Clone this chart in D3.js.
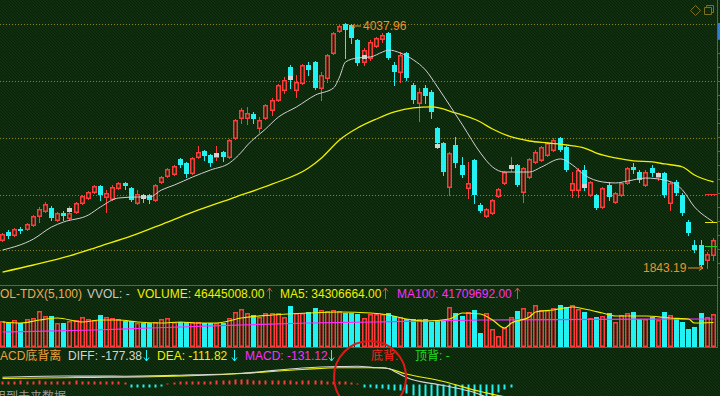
<!DOCTYPE html>
<html>
<head>
<meta charset="utf-8">
<style>
html, body { margin:0; padding:0; background:#0c2a0c; overflow:hidden; }
svg { display:block; }
text { font-family:"Liberation Sans", Arial, "Noto Sans CJK SC", sans-serif; font-size:12px; }
</style>
<script src="https://cdn.jsdelivr.net/npm/d3@7/dist/d3.min.js"></script>
</head>
<body>
<div id="chart"></div>
<script>
// daily candles
var opens = [2094,2166,2139,2192,2192,2228,2309,2354,2381,2273,2336,2291,2345,2425,2470,2524,2578,2479,2461,2560,
  2605,2560,2425,2488,2497,2452,2614,2667,2685,2820,2784,2694,2838,2891,2855,2838,2882,2838,3008,3187,
  3187,3223,3097,3187,3259,3348,3438,3644,3438,3501,3662,3689,3456,3545,3769,3967,4029,4020,3886,3689,
  3725,3832,3895,3949,3662,3599,3769,3483,3321,3456,3420,3097,2963,2569,2945,2766,2560,2811,2407,2309,
  2336,2488,2605,2739,2766,2524,2658,2793,2811,2855,2900,3008,2927,2542,2542,2721,2497,2497,2390,2587,
  2434,2497,2605,2748,2703,2587,2739,2658,2694,2425,2614,2497,2255,2049,2049,1915,1959]
var highs = [2157,2183,2201,2210,2246,2318,2390,2434,2399,2345,2354,2399,2434,2497,2533,2587,2587,2542,2587,2614,
  2614,2569,2542,2506,2506,2596,2667,2739,2766,2829,2793,2838,2936,2900,2864,2936,2891,2999,3178,3277,
  3286,3241,3196,3312,3366,3492,3554,3662,3572,3671,3689,3698,3599,3760,3958,4020,4037.96,4030,3895,3814,
  3886,3913,3949,3958,3689,3778,3778,3501,3456,3483,3438,3106,2972,2882,3017,2838,2793,2820,2425,2381,
  2461,2560,2712,2838,2775,2748,2829,2900,2936,2972,3008,3017,2936,2703,2739,2766,2623,2506,2569,2614,
  2524,2614,2748,2784,2721,2721,2766,2703,2703,2614,2631,2515,2273,2094,2094,1986,2112]
var lows = [2085,2112,2130,2157,2183,2219,2255,2345,2273,2264,2273,2273,2336,2416,2461,2515,2452,2345,2452,2551,
  2551,2443,2416,2434,2425,2443,2605,2658,2676,2748,2658,2685,2829,2811,2757,2811,2802,2829,2999,3142,
  3133,3142,3062,3178,3214,3339,3411,3456,3375,3492,3572,3447,3348,3510,3760,3958,3725,3859,3662,3662,
  3707,3823,3868,3716,3483,3510,3527,3321,3160,3321,3187,2918,2676,2497,2748,2658,2470,2425,2345,2300,
  2327,2479,2596,2712,2578,2434,2649,2784,2802,2846,2891,2891,2712,2479,2479,2542,2488,2372,2381,2452,
  2425,2488,2596,2694,2614,2578,2667,2631,2479,2363,2497,2318,2139,1986,1861,1843.19,1915]
var closes = [2148,2130,2192,2175,2237,2309,2372,2416,2291,2336,2309,2336,2425,2488,2524,2578,2497,2515,2569,2605,
  2578,2452,2506,2461,2452,2587,2658,2730,2757,2766,2685,2829,2882,2847,2784,2864,2838,2990,3169,3259,
  3232,3178,3169,3303,3348,3483,3527,3527,3510,3662,3617,3456,3572,3751,3949,4011,3975,3904,3680,3796,
  3868,3904,3931,3725,3599,3751,3545,3348,3420,3384,3241,2963,2703,2873,2784,2676,2605,2497,2354,2372,
  2452,2551,2703,2757,2587,2739,2820,2882,2927,2963,2990,2900,2721,2605,2721,2587,2614,2381,2560,2479,
  2515,2605,2739,2721,2631,2703,2694,2676,2497,2605,2515,2336,2157,2004,1870,1968,2094]

// volume, millions of shares
var volumes = [36.4,33.6,37.8,33.6,39.2,40.6,50.4,43.4,43.4,33.6,
  33.6,36.4,37.8,42.0,39.2,37.8,44.8,42.0,40.6,39.2,
  36.4,36.4,33.6,33.6,33.6,35.0,39.2,40.6,35.0,35.0,
  35.0,35.0,35.0,33.6,33.6,33.6,33.6,40.6,49.0,53.2,
  47.6,44.8,42.0,47.6,47.6,47.6,42.0,57.4,47.6,47.6,
  49.0,54.6,51.8,50.4,51.8,50.4,47.6,47.6,46.2,40.6,
  46.2,46.2,46.2,47.6,43.4,42.0,39.2,39.2,39.2,39.2,
  35.0,37.8,37.8,56.0,47.6,43.4,49.0,51.8,19.6,47.6,
  25.2,15.4,26.6,42.0,50.4,54.6,49.0,58.8,51.8,51.8,
  54.6,58.8,56.0,58.8,53.2,49.0,40.6,42.0,43.4,47.6,
  35.0,44.8,47.6,49.0,39.2,39.2,42.0,37.8,49.0,44.8,
  40.6,35.0,25.2,28.0,47.6,42.0,46.4]

// MACD histogram
var macdBars = [24,24,24,32,24,24,32,24,24,24,24,24,32,24,24,24,24,24,24,24,16,
  -24,-24,-24,-24,-24,-16, 8,
  16,24,24,24,24,24,24,32,32,32,40,40,40,32,32,32,32,32,32,32,24,32,32,32,32,24,24,24,24,16,
  8,
  -24,-24,-32,-32,-40,-48,-48,-72,-88,-104,-120,-136,-150,-160,-160,-160,-150,-140,-130,-120,-110,-100,-64,-40,-24,
  0,0,0,0,0,0,0,0,0,0,0,0,0,0,0,0,0,0,0,0,0,0,0,0,0,0,0,0,0,0,0,0,0]

// moving averages sampled at candle indexes
var whiteMaIdx = [0,5,8,10,14,16,19,22,24,26,28,31,34,37,39,40,43,45,48,51,54,55,56,58,60,62,63,65,67,69,71,73,75,78,80,82,86,88,91,93,95,98,100,102,105,108,111,113,115,116]
var whiteMaVal = [2004,2103,2210,2255,2318,2390,2470,2479,2479,2542,2587,2658,2721,2784,2882,2945,3088,3196,3286,3393,3456,3554,3689,3725,3734,3778,3796,3769,3707,3617,3465,3303,3124,2873,2748,2703,2703,2748,2820,2766,2676,2614,2605,2622,2649,2631,2542,2390,2291,2255]
var yellowMaIdx = [0,5,11,16,21,27,32,38,44,50,52,55,58,61,64,67,70,74,78,80,83,86,89,92,95,97,100,103,106,108,111,113,116]
var yellowMaVal = [1807,1870,1951,2040,2130,2255,2363,2479,2596,2739,2829,2990,3097,3178,3241,3277,3286,3232,3151,3088,3017,2981,2963,2945,2918,2873,2829,2802,2793,2775,2748,2676,2614]
var volMa5Idx = [0,3,6,9,13,16,19,22,26,29,32,35,39,44,50,55,60,63,66,69,73,75,78,80,82,83,86,87,90,93,95,98,100,102,105,109,112,113,116]
var volMa5Val = [35.0,33.6,37.8,40.6,35.0,37.8,37.8,35.0,33.6,35.0,33.6,33.6,40.6,44.8,47.6,49.0,47.6,44.8,39.2,36.4,39.2,47.6,46.2,37.8,26.6,33.6,42.0,49.0,51.8,56.0,53.2,47.6,43.4,43.4,43.4,40.6,39.2,33.6,34.3]
var volMa100Idx = [0,15,24,39,50,61,78,116]
var volMa100Val = [21.0,23.8,26.6,30.8,33.6,35.0,37.8,39.2]
var diffIdx = [0,10,20,29,39,49,55,58,61,63,64,66,72,77,82,91,104,116]
var diffVal = [58,68,66,74,90,132,144,146,134,128,104,56,-8,-64,-160,-240,-200,-177]
var deaIdx = [0,13,26,39,49,55,62,66,72,78,84,100,116]
var deaVal = [48,56,64,88,120,134,134,84,24,-56,-110,-125,-111]

// white markers on candles, every 12 bars
var markIdx = [11,23,35,47,59,71,83,95,107]
var markPrice = [2363,2479,2855,3545,3734,2936,2748,2578,2676]

var gridPrices = [4030, 3520, 3010, 2500, 2000]
var edgePrices = [2506, 2255, 2040]
var edgeColors = ['#ff3030', '#e8e800', '#20d020']

var hiText = '4037.96', loText = '1843.19'
var volTexts = ['VOL-TDX(5,100)', 'VVOL: -', 'VOLUME: 46445008.00', 'MA5: 34306664.00', 'MA100: 41709692.00']
var macdTexts = ['MACD底背离', 'DIFF: -177.38', 'DEA: -111.82', 'MACD: -131.12', '底背:', '顶背: -']

var W = 720, H = 396
var RED = '#ff3b3b', CYAN = '#22f2f2', YEL = '#f0f000', MAG = '#ff2cff', ORG = '#f0902c'

var svg = d3.select('#chart').append('svg').attr('width', W).attr('height', H)

// hatched dark green background
var defs = svg.append('defs')
var pat = defs.append('pattern').attr('id', 'bg').attr('width', 3).attr('height', 3)
  .attr('patternUnits', 'userSpaceOnUse')
pat.append('rect').attr('width', 3).attr('height', 3).attr('fill', '#0f2f0e')
pat.append('path').attr('d', 'M0,0 L3,3 M-1,2 L1,4 M2,-1 L4,1').attr('stroke', '#081f08').attr('stroke-width', 0.9)
svg.append('rect').attr('width', W).attr('height', H).attr('fill', 'url(#bg)')

var n = closes.length
var idx = d3.range(n)
var x = d3.scaleBand().domain(idx).range([0, 716]).paddingInner(0.15)
function left(i){ return Math.round(x(i)) }
function cx(i){ return left(i) + 2.5 }
function up(i){ return closes[i] >= opens[i] }

var y = d3.scaleLinear().domain([1843.19, 4037.96]).range([268, 23])
var yv = d3.scaleLinear().domain([0, 58.8]).range([347, 305])
var ym = d3.scaleLinear().domain([0, 80]).range([384.5, 374.5])

// grid + frame
svg.append('g').selectAll('line').data(gridPrices).enter().append('line')
  .attr('x1', 0).attr('x2', 716)
  .attr('y1', function(d){ return Math.round(y(d)) + 0.5 })
  .attr('y2', function(d){ return Math.round(y(d)) + 0.5 })
  .attr('stroke', '#8a7e1c').attr('stroke-dasharray', '1,2')

var frame = svg.append('g').attr('stroke', '#6a661c').attr('shape-rendering', 'crispEdges')
frame.append('line').attr('x1', 0).attr('x2', 718).attr('y1', 285.5).attr('y2', 285.5)
frame.append('line').attr('x1', 0).attr('x2', 718).attr('y1', 347.5).attr('y2', 347.5)
frame.append('line').attr('x1', 717.5).attr('x2', 717.5).attr('y1', 0).attr('y2', 348)
frame.selectAll('.tk').data(d3.range(39, 285, 14)).enter().append('line')
  .attr('x1', 717).attr('x2', 720).attr('y1', function(d){ return d + 0.5 }).attr('y2', function(d){ return d + 0.5 })
svg.append('rect').attr('x', 718).attr('y', 23).attr('width', 2).attr('height', 16).attr('fill', '#2f7fd8')

// top-right icons
svg.append('path').attr('d', 'M695.5,5.5 L700.5,10.5 L695.5,15.5 L690.5,10.5 Z')
  .attr('fill', 'none').attr('stroke', '#7a7020')
svg.append('path').attr('d', 'M704.5,7.5 h7 v7 h-7 Z M706.5,7.5 v-2 h7 v7 h-2')
  .attr('fill', 'none').attr('stroke', '#7a7020')

// candles
var cg = svg.append('g')
cg.selectAll('line').data(idx).enter().append('line')
  .attr('x1', cx).attr('x2', cx)
  .attr('y1', function(d){ return Math.round(y(highs[d])) })
  .attr('y2', function(d){ return Math.round(y(lows[d])) + 1 })
  .attr('stroke', function(d){ return up(d) ? RED : CYAN })
  .attr('shape-rendering', 'crispEdges')

cg.selectAll('rect.dn').data(idx.filter(function(d){ return !up(d) })).enter().append('rect')
  .attr('x', left)
  .attr('y', function(d){ return Math.round(y(opens[d])) })
  .attr('width', 5)
  .attr('height', function(d){ return Math.max(1, Math.round(y(closes[d])) - Math.round(y(opens[d]))) })
  .attr('fill', CYAN).attr('shape-rendering', 'crispEdges')

cg.selectAll('rect.up').data(idx.filter(up)).enter().append('rect')
  .attr('x', function(d){ return left(d) + 0.75 })
  .attr('y', function(d){ return Math.round(y(closes[d])) + 0.75 })
  .attr('width', 3.5)
  .attr('height', function(d){ return Math.max(0.5, Math.round(y(opens[d])) - Math.round(y(closes[d])) - 0.5) })
  .attr('fill', 'url(#bg)').attr('stroke', RED).attr('stroke-width', 1.5)

cg.selectAll('rect.mk').data(markIdx).enter().append('rect')
  .attr('x', left)
  .attr('y', function(d, i){ return Math.round(y(markPrice[i])) - 2 })
  .attr('width', 5).attr('height', 4)
  .attr('fill', '#d4d4d4').attr('shape-rendering', 'crispEdges')

// price moving averages
function maLine(xs, vs, sy){
  return d3.line()
    .x(function(d, i){ return cx(xs[i]) })
    .y(function(d){ return sy(d) })
    .curve(d3.curveMonotoneX)(vs)
}
svg.append('path').attr('d', maLine(yellowMaIdx, yellowMaVal, y))
  .attr('fill', 'none').attr('stroke', YEL).attr('stroke-width', 1.3)
svg.append('path').attr('d', maLine(whiteMaIdx, whiteMaVal, y))
  .attr('fill', 'none').attr('stroke', '#d0d0d0').attr('stroke-width', 1)

// right edge marks
svg.append('g').selectAll('line').data(edgePrices).enter().append('line')
  .attr('x1', 705).attr('x2', 717)
  .attr('y1', function(d){ return Math.round(y(d)) + 0.5 })
  .attr('y2', function(d){ return Math.round(y(d)) + 0.5 })
  .attr('stroke', function(d, i){ return edgeColors[i] })

// high / low labels
var hiY = y(4037.96), loY = y(1843.19)
svg.append('path').attr('d', 'M352,' + (hiY + 3) + ' h9 M352,' + (hiY + 3) + ' l3,-2 M352,' + (hiY + 3) + ' l3,2')
  .attr('stroke', ORG).attr('fill', 'none')
svg.append('text').attr('x', 363).attr('y', hiY + 7).attr('fill', ORG).text(hiText)
svg.append('text').attr('x', 643).attr('y', loY + 4).attr('fill', ORG).text(loText)
svg.append('path').attr('d', 'M688,' + loY + ' h15 M703,' + loY + ' l-4,-2.5 M703,' + loY + ' l-4,2.5')
  .attr('stroke', ORG).attr('fill', 'none')

// volume panel
var vg = svg.append('g')
vg.selectAll('rect.dn').data(idx.filter(function(d){ return !up(d) })).enter().append('rect')
  .attr('x', left).attr('width', 5)
  .attr('y', function(d){ return Math.round(yv(volumes[d])) })
  .attr('height', function(d){ return 347 - Math.round(yv(volumes[d])) })
  .attr('fill', CYAN).attr('shape-rendering', 'crispEdges')
vg.selectAll('rect.up').data(idx.filter(up)).enter().append('rect')
  .attr('x', function(d){ return left(d) + 0.75 }).attr('width', 3.5)
  .attr('y', function(d){ return Math.round(yv(volumes[d])) + 0.75 })
  .attr('height', function(d){ return 347 - Math.round(yv(volumes[d])) - 1.5 })
  .attr('fill', 'none').attr('stroke', RED).attr('stroke-width', 1.5)
vg.append('path').attr('d', maLine(volMa100Idx, volMa100Val, yv))
  .attr('fill', 'none').attr('stroke', MAG).attr('stroke-width', 1.2)
vg.append('path').attr('d', maLine(volMa5Idx, volMa5Val, yv))
  .attr('fill', 'none').attr('stroke', YEL).attr('stroke-width', 1.2)

// MACD panel
var mg = svg.append('g')
mg.selectAll('rect').data(idx.filter(function(d){ return macdBars[d] != 0 })).enter().append('rect')
  .attr('x', function(d){ return left(d) + 1.5 }).attr('width', 2)
  .attr('y', function(d){ return Math.min(ym(0), ym(macdBars[d])) })
  .attr('height', function(d){ return Math.abs(ym(macdBars[d]) - ym(0)) })
  .attr('fill', function(d){ return macdBars[d] > 0 ? RED : CYAN })
mg.append('path').attr('d', maLine(deaIdx, deaVal, ym))
  .attr('fill', 'none').attr('stroke', YEL).attr('stroke-width', 1.2)
mg.append('path').attr('d', maLine(diffIdx, diffVal, ym))
  .attr('fill', 'none').attr('stroke', '#d8d8d8').attr('stroke-width', 1.2)

svg.append('circle').attr('cx', 370).attr('cy', 377).attr('r', 36)
  .attr('fill', 'none').attr('stroke', '#e01818').attr('stroke-width', 2)

// header texts
function arrow(xp, yTop, color, dir){
  var d = dir > 0
    ? 'M' + xp + ',' + (yTop + 11) + ' V' + yTop + ' M' + (xp - 2.5) + ',' + (yTop + 3.5) + ' L' + xp + ',' + yTop + ' L' + (xp + 2.5) + ',' + (yTop + 3.5)
    : 'M' + xp + ',' + yTop + ' V' + (yTop + 11) + ' M' + (xp - 2.5) + ',' + (yTop + 7.5) + ' L' + xp + ',' + (yTop + 11) + ' L' + (xp + 2.5) + ',' + (yTop + 7.5)
  svg.append('path').attr('d', d).attr('stroke', color).attr('fill', 'none')
}
var vx = [-8, 87, 137, 280, 397], vc = ['#eeaa5a', '#c8c8c8', YEL, YEL, MAG]
volTexts.forEach(function(t, i){
  svg.append('text').attr('x', vx[i]).attr('y', 298).attr('fill', vc[i]).text(t)
})
arrow(269.5, 288, RED, 1); arrow(385.5, 288, RED, 1); arrow(517.5, 288, RED, 1)

var mx = [-10, 68, 157, 245, 371, 415], mc = ['#eea040', '#d4d4d4', YEL, MAG, '#ff2020', '#22dd22']
macdTexts.forEach(function(t, i){
  svg.append('text').attr('x', mx[i]).attr('y', 360).attr('fill', mc[i]).text(t)
})
arrow(146.5, 350, CYAN, -1); arrow(234.5, 350, CYAN, -1); arrow(331.5, 350, CYAN, -1)

svg.append('text').attr('x', -6).attr('y', 401).attr('fill', '#9a9a9a').text('用到未来数据')
</script>
</body>
</html>
